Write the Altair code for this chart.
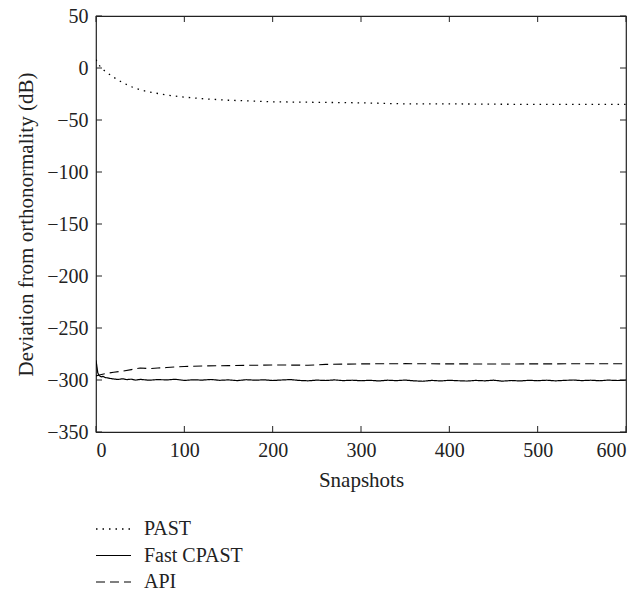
import altair as alt
import pandas as pd

# PAST: deviation from orthonormality (dB)
past_x = [0, 2, 5, 10, 15, 20, 30, 40, 50, 60, 80, 100, 120, 150, 200, 250, 300, 350, 400, 450, 500, 550, 600]
past_y = [8, 5, 1, -3, -6, -9, -14, -18, -21, -23, -26, -28, -29.5, -31, -32.5, -33, -33.5, -34.5, -34.5, -34.8, -35, -35, -35]

# Fast CPAST
cpast_x = [0, 1, 2, 3, 4, 6, 8, 10, 13, 16, 20, 25, 30, 35, 40, 45,
           50, 60, 70, 80, 90, 100, 110, 120, 130, 140, 150, 160, 170, 180, 190,
           200, 210, 220, 230, 240, 250, 260, 270, 280, 290, 300, 310, 320, 330,
           340, 350, 360, 370, 380, 390, 400, 410, 420, 430, 440, 450, 460, 470,
           480, 490, 500, 510, 520, 530, 540, 550, 560, 570, 580, 590, 600]
cpast_y = [-281, -287, -293, -295, -296, -297, -296.5, -297.5, -298, -298.5, -299, -299.5, -298.8, -299.6, -299.2, -300.1,
           -299.4, -300.2, -299.6, -299.9, -299.3, -300.4, -299.8, -300.1, -299.5, -300.3, -299.9, -300.6, -299.7, -300.2, -299.8,
           -300.5, -300.0, -299.6, -300.4, -300.8, -300.1, -300.5, -299.9, -300.6, -300.2, -300.7, -300.3, -300.9, -300.2,
           -300.6, -300.1, -300.8, -301.2, -300.4, -300.9, -300.3, -300.7, -301.0, -300.4, -300.8, -300.2, -301.1, -300.5,
           -300.9, -300.3, -300.7, -300.2, -300.8, -300.4, -300.0, -300.6, -300.2, -300.7, -300.1, -300.5, -300.2]

# API
api_x = [0, 5, 10, 20, 30, 40, 50, 60, 70, 80, 100, 120, 150, 180, 200, 240, 260, 300, 350, 400, 450, 500, 550, 600]
api_y = [-296, -295, -294, -292.5, -291.5, -290, -288.5, -289, -288.5, -288, -287, -286.5, -286.2, -285.8, -285.5,
         -285.8, -285, -284.5, -284.3, -284.5, -284.6, -284.5, -284.4, -284.3]

series_names = ["PAST", "Fast CPAST", "API"]
x_ticks = [0, 100, 200, 300, 400, 500, 600]
y_ticks = [-350, -300, -250, -200, -150, -100, -50, 0, 50]

W, H = 530, 416
FONT = "Liberation Serif"
LFS = 20   # tick labels / legend
TFS = 21   # axis titles

dash_map = {"PAST": [1.5, 5], "Fast CPAST": [1, 0], "API": [9, 5]}
width_map = {"PAST": 1.3, "Fast CPAST": 1.2, "API": 1.1}

frames = []
for name, xs, ys in [("PAST", past_x, past_y), ("Fast CPAST", cpast_x, cpast_y), ("API", api_x, api_y)]:
    frames.append(pd.DataFrame({"snap": xs, "dev": ys, "series": name}))

x_scale = alt.Scale(domain=[0, 600], nice=False, zero=False)
y_scale = alt.Scale(domain=[-350, 50], nice=False, zero=False)

x_axis = alt.Axis(values=x_ticks, title="Snapshots", ticks=False, domain=False, grid=False,
                  labelFont=FONT, labelFontSize=LFS, labelColor="#222", labelPadding=8,
                  titleFont=FONT, titleFontSize=TFS, titleFontWeight="normal", titleColor="#222",
                  titlePadding=9)
y_axis = alt.Axis(values=y_ticks, title="Deviation from orthonormality (dB)", ticks=False, domain=False,
                  grid=False, labelFont=FONT, labelFontSize=LFS, labelColor="#222", labelPadding=8,
                  titleFont=FONT, titleFontSize=TFS, titleFontWeight="normal", titleColor="#222",
                  titlePadding=10)

X = alt.X("snap:Q", scale=x_scale, axis=x_axis)
Y = alt.Y("dev:Q", scale=y_scale, axis=y_axis)

layers = []
for df in frames:
    name = df["series"].iloc[0]
    layers.append(
        alt.Chart(df).mark_line(color="black", strokeWidth=width_map[name], strokeDash=dash_map[name],
                                clip=True).encode(x=X, y=Y)
    )

# inward tick marks on all four sides
xt = pd.DataFrame({"snap": x_ticks})
yt = pd.DataFrame({"dev": y_ticks})
TL = 6
tick_layers = [
    alt.Chart(xt).mark_rule(color="#222", strokeWidth=1).encode(
        x=X, y=alt.value(H), y2=alt.value(H - TL)),
    alt.Chart(xt).mark_rule(color="#222", strokeWidth=1).encode(
        x=X, y=alt.value(0), y2=alt.value(TL)),
    alt.Chart(yt).mark_rule(color="#222", strokeWidth=1).encode(
        y=Y, x=alt.value(0), x2=alt.value(TL)),
    alt.Chart(yt).mark_rule(color="#222", strokeWidth=1).encode(
        y=Y, x=alt.value(W), x2=alt.value(W - TL)),
]

# legend below the plot
legend_layers = []
row0 = H + 97
for k, name in enumerate(series_names):
    ry = row0 + 26.5 * k
    ld = pd.DataFrame({"series": [name]})
    legend_layers.append(
        alt.Chart(ld).mark_rule(color="black", strokeWidth=width_map[name], strokeDash=dash_map[name]).encode(
            x=alt.value(0), x2=alt.value(35), y=alt.value(ry))
    )
    legend_layers.append(
        alt.Chart(ld).mark_text(align="left", baseline="middle", font=FONT, fontSize=LFS, color="#222").encode(
            x=alt.value(48), y=alt.value(ry), text="series:N")
    )

chart = alt.layer(*layers, *tick_layers, *legend_layers).properties(
    width=W, height=H,
    autosize=alt.AutoSizeParams(type="none"),
    padding={"left": 96, "top": 16, "right": 18, "bottom": 159},
).configure_view(stroke="#222", strokeWidth=1.2)

chart.save("out.html", embed_options={"renderer": "svg", "actions": False})
